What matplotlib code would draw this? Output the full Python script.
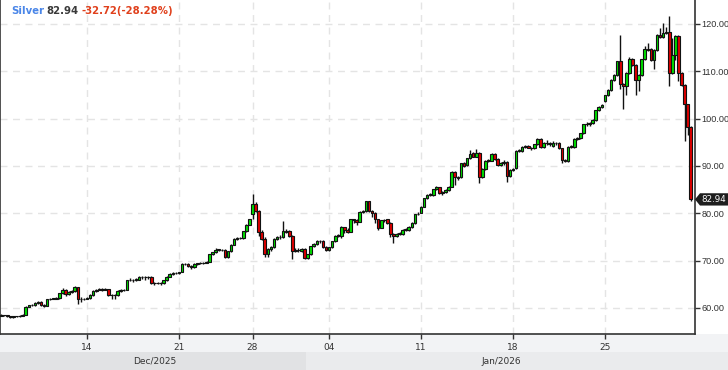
import numpy as np
import matplotlib.pyplot as plt
from matplotlib.patches import Rectangle, Polygon
from matplotlib.transforms import blended_transform_factory

# 4h candles, Silver, Dec 2025 - Jan 2026
opens = [
    58.4, 58.5, 58.5, 58.2, 58.1, 58.2, 58.3, 58.3, 58.6, 60.3,
    60.6, 60.7, 61.0, 61.3, 60.6, 60.5, 61.8, 62.0, 62.0, 62.1,
    63.1, 63.8, 62.9, 63.4, 63.5, 64.4, 62.0, 61.9, 62.0, 62.1,
    62.8, 63.6, 63.9, 64.0, 63.9, 64.0, 62.8, 62.7, 62.8, 63.6,
    63.8, 63.8, 65.9, 65.9, 66.0, 66.0, 66.5, 66.6, 66.5, 66.6,
    65.3, 65.2, 65.3, 65.2, 65.9, 66.6, 67.2, 67.3, 67.4, 67.6,
    69.3, 69.2, 68.8, 68.6, 69.3, 69.4, 69.5, 69.6, 69.8, 71.4,
    71.8, 72.3, 72.3, 72.2, 70.7, 72.0, 73.4, 74.6, 74.8, 74.7,
    76.2, 77.6, 79.8, 82.0, 80.4, 76.0, 74.6, 71.4, 72.5, 72.8,
    74.6, 75.1, 74.9, 76.3, 76.3, 75.3, 72.1, 72.3, 72.1, 72.5,
    70.6, 71.3, 73.0, 73.5, 74.1, 74.2, 72.8, 72.3, 72.8, 74.1,
    75.3, 75.3, 77.1, 76.5, 76.1, 78.7, 78.5, 78.2, 80.3, 80.4,
    82.5, 80.4, 80.1, 78.7, 77.0, 78.5, 78.7, 77.9, 75.6, 75.3,
    75.6, 75.7, 76.5, 76.5, 77.2, 77.9, 79.8, 80.1, 81.4, 83.2,
    83.9, 83.9, 85.1, 85.5, 84.2, 84.6, 85.0, 85.6, 88.8, 87.6,
    87.6, 90.6, 90.2, 91.6, 92.7, 92.0, 92.7, 87.6, 89.3, 91.1,
    91.1, 92.5, 91.4, 90.2, 90.6, 90.9, 87.9, 89.2, 89.6, 93.2,
    93.2, 94.1, 94.3, 93.9, 93.7, 94.6, 95.8, 94.1, 94.9, 94.6,
    94.3, 94.8, 94.8, 93.7, 91.3, 91.1, 94.0, 94.1, 95.8, 96.0,
    96.9, 98.8, 98.8, 99.0, 99.8, 101.9, 102.5, 103.7, 104.9, 106.1,
    108.2, 109.3, 112.1, 107.4, 106.8, 109.6, 112.6, 111.4, 108.2, 109.3,
    112.6, 114.7, 114.7, 112.4, 114.5, 117.7, 117.3, 118.0, 118.3, 109.6,
    113.5, 117.5, 109.6, 107.2, 103.0, 98.3,
]
highs = [
    58.7, 58.6, 58.6, 58.4, 58.3, 58.4, 58.5, 58.7, 60.4, 60.7,
    60.9, 61.2, 61.5, 61.4, 60.9, 61.9, 62.2, 62.2, 62.3, 63.2,
    64.3, 64.0, 63.6, 63.7, 64.6, 64.5, 62.3, 62.2, 62.4, 62.9,
    63.7, 64.1, 64.2, 64.2, 64.2, 64.1, 63.0, 63.0, 63.8, 64.0,
    64.0, 66.0, 66.4, 66.2, 66.4, 66.7, 66.8, 66.8, 66.8, 66.7,
    65.5, 65.5, 65.4, 66.0, 66.7, 67.3, 67.5, 67.5, 67.6, 69.4,
    69.5, 69.4, 69.0, 69.4, 69.6, 69.7, 69.8, 69.9, 71.5, 71.9,
    72.7, 72.5, 72.5, 72.4, 72.1, 73.5, 74.7, 75.0, 75.0, 76.3,
    77.7, 78.8, 84.1, 82.3, 80.6, 76.4, 74.9, 72.7, 73.0, 74.8,
    75.3, 75.4, 78.4, 76.6, 76.5, 75.5, 72.6, 72.6, 72.7, 72.6,
    71.5, 73.1, 73.7, 74.3, 74.4, 74.3, 73.0, 72.9, 74.2, 75.4,
    75.7, 77.3, 77.2, 76.8, 78.9, 78.9, 78.7, 80.5, 80.6, 82.6,
    82.6, 80.6, 80.3, 78.9, 78.6, 78.8, 78.9, 78.1, 75.9, 75.8,
    76.0, 76.6, 76.8, 77.3, 78.1, 79.9, 80.3, 81.5, 83.3, 84.0,
    84.2, 85.2, 85.8, 85.6, 84.8, 85.2, 85.8, 88.9, 89.0, 87.9,
    90.7, 90.8, 91.7, 93.4, 93.0, 93.5, 92.9, 89.5, 91.3, 91.5,
    92.8, 92.7, 91.6, 90.8, 91.2, 91.1, 89.3, 89.6, 93.4, 93.5,
    94.2, 94.4, 94.5, 94.0, 94.7, 95.9, 95.9, 95.1, 95.5, 95.0,
    95.2, 95.0, 95.0, 93.8, 91.5, 94.2, 94.5, 95.9, 96.2, 97.0,
    98.9, 99.2, 99.2, 99.9, 101.9, 102.7, 103.1, 105.0, 106.3, 108.4,
    109.4, 112.2, 117.7, 107.6, 109.8, 113.1, 112.8, 111.6, 109.5, 112.7,
    115.4, 115.9, 114.9, 114.7, 117.8, 119.1, 120.3, 119.4, 121.7, 117.0,
    117.7, 117.7, 109.9, 107.4, 103.2, 98.5,
]
lows = [
    58.2, 58.3, 58.1, 57.9, 57.9, 58.0, 58.1, 58.2, 58.5, 60.1,
    60.4, 60.5, 60.8, 60.5, 60.2, 60.4, 61.6, 61.8, 61.8, 61.9,
    63.0, 62.6, 62.7, 63.2, 63.3, 60.9, 61.2, 61.6, 61.8, 61.9,
    62.6, 63.4, 63.7, 63.6, 63.7, 62.6, 62.0, 62.0, 62.6, 63.4,
    63.6, 63.7, 65.6, 65.4, 65.7, 65.9, 66.2, 66.0, 66.2, 65.1,
    64.9, 65.0, 64.9, 65.1, 65.8, 66.5, 67.0, 67.1, 67.2, 67.5,
    69.0, 68.6, 68.3, 68.5, 69.1, 69.2, 69.3, 69.4, 69.7, 71.2,
    71.6, 72.0, 72.0, 70.5, 70.6, 71.9, 73.2, 74.4, 74.5, 74.6,
    76.1, 77.5, 78.8, 80.2, 75.3, 74.4, 70.7, 70.7, 72.0, 72.6,
    74.3, 74.6, 74.7, 75.8, 75.1, 70.4, 71.8, 71.8, 71.9, 70.3,
    70.3, 71.2, 72.8, 73.3, 73.8, 72.6, 72.0, 72.1, 72.6, 74.0,
    75.0, 74.7, 75.9, 75.8, 76.0, 77.9, 77.6, 78.1, 80.0, 80.2,
    80.2, 79.3, 78.0, 76.5, 76.8, 78.2, 77.7, 75.1, 73.7, 75.1,
    75.4, 75.5, 76.2, 76.3, 77.0, 77.8, 79.6, 80.0, 81.3, 83.0,
    83.6, 83.7, 84.9, 84.0, 83.9, 84.3, 84.8, 85.5, 86.0, 87.1,
    87.4, 89.8, 90.0, 91.4, 91.8, 91.8, 86.5, 87.4, 89.1, 90.8,
    91.0, 91.2, 90.0, 90.0, 90.3, 86.7, 87.7, 88.9, 89.4, 92.9,
    93.0, 93.9, 93.7, 93.4, 93.5, 94.4, 93.9, 93.9, 94.5, 94.3,
    94.1, 94.5, 93.5, 90.6, 90.8, 90.9, 93.8, 93.9, 95.5, 95.8,
    96.7, 98.4, 98.5, 98.8, 99.6, 101.7, 102.3, 103.5, 104.7, 105.9,
    108.0, 109.1, 106.3, 102.1, 105.1, 109.4, 111.1, 105.1, 105.8, 109.1,
    112.4, 114.3, 112.2, 110.5, 114.3, 117.1, 117.1, 117.8, 107.0, 109.4,
    112.4, 107.9, 106.9, 95.3, 96.5, 82.7,
]
closes = [
    58.5, 58.5, 58.2, 58.1, 58.2, 58.3, 58.3, 58.6, 60.3, 60.6,
    60.7, 61.0, 61.3, 60.6, 60.5, 61.8, 62.0, 62.0, 62.1, 63.1,
    63.8, 62.9, 63.4, 63.5, 64.4, 62.0, 61.9, 62.0, 62.1, 62.8,
    63.6, 63.9, 64.0, 63.9, 64.0, 62.8, 62.7, 62.8, 63.6, 63.8,
    63.8, 65.9, 65.9, 66.0, 66.0, 66.5, 66.6, 66.5, 66.6, 65.3,
    65.2, 65.3, 65.2, 65.9, 66.6, 67.2, 67.3, 67.4, 67.6, 69.3,
    69.2, 68.8, 68.6, 69.3, 69.4, 69.5, 69.6, 69.8, 71.4, 71.8,
    72.3, 72.3, 72.2, 70.7, 72.0, 73.4, 74.6, 74.8, 74.7, 76.2,
    77.6, 78.7, 82.0, 80.4, 76.0, 74.6, 71.4, 72.5, 72.8, 74.6,
    75.1, 74.9, 76.2, 76.0, 75.3, 72.1, 72.3, 72.2, 72.5, 70.6,
    71.3, 73.0, 73.5, 74.1, 74.2, 72.8, 72.3, 72.8, 74.1, 75.3,
    75.5, 77.1, 76.5, 76.1, 78.7, 78.5, 78.2, 80.3, 80.4, 82.5,
    80.4, 80.1, 78.7, 77.0, 78.5, 78.6, 77.9, 75.6, 75.3, 75.6,
    75.9, 76.5, 76.6, 77.2, 78.0, 79.8, 79.9, 81.4, 83.2, 83.9,
    83.9, 85.1, 85.5, 84.2, 84.6, 85.0, 85.6, 88.8, 87.6, 87.4,
    90.6, 90.0, 91.6, 92.5, 92.0, 92.7, 87.6, 89.3, 91.1, 91.1,
    92.5, 91.4, 90.2, 90.6, 90.9, 87.9, 89.2, 89.3, 93.2, 93.2,
    94.1, 94.2, 93.9, 93.7, 94.6, 95.8, 94.1, 94.9, 94.8, 94.9,
    94.8, 94.8, 93.7, 91.3, 91.1, 94.1, 94.3, 95.8, 96.0, 96.9,
    98.8, 98.8, 99.0, 99.8, 101.8, 102.5, 102.8, 104.9, 106.1, 108.2,
    109.3, 112.1, 107.4, 106.8, 109.6, 112.6, 111.4, 108.2, 109.3, 112.6,
    114.7, 114.6, 112.4, 114.5, 117.7, 117.3, 118.0, 118.3, 109.6, 113.5,
    117.5, 109.6, 107.2, 103.0, 98.3, 82.94,
]

tick_pos = [28, 58, 82, 107, 137, 167, 197]
tick_labels = ["14", "21", "28", "04", "11", "18", "25"]
month_start = [0, 100]
month_labels = ["Dec/2025", "Jan/2026"]
y_ticks = [60, 70, 80, 90, 100, 110, 120]

name = "Silver"
last_txt = "82.94"
change_txt = "-32.72(-28.28%)"

W, H = 728, 370
fig = plt.figure(figsize=(W / 100, H / 100), dpi=100)

# bottom bands (drawn behind the axes)
fig.patches.append(Rectangle((0, 18 / H), 1, 18 / H, transform=fig.transFigure,
                             facecolor='#f2f3f5', edgecolor='none', zorder=-5))

ax = fig.add_axes([0, 36 / H, 695 / W, 334 / H])

o = np.array(opens); h = np.array(highs); l = np.array(lows); c = np.array(closes)
idx = np.arange(len(c))
up = c >= o
cols = np.where(up, '#00e000', '#e00000')

ax.vlines(idx, l, h, color='#111111', linewidth=1.0, zorder=2)
body = np.maximum(np.abs(c - o), 0.08)
ax.bar(idx, body, bottom=np.minimum(o, c), width=0.85, color=cols,
       edgecolor='#111111', linewidth=0.8, zorder=3)

ax.set_xlim(-0.4, 226.4)
ax.set_ylim(54.5, 125.07)

ax.set_xticks(tick_pos)
ax.set_xticklabels(tick_labels)
ax.set_yticks(y_ticks)
ax.set_yticklabels(["%.2f" % v for v in y_ticks], family='Liberation Sans')
ax.yaxis.tick_right()
ax.tick_params(axis='both', colors='#333333', labelsize=6.5, length=3.5, width=1)
ax.tick_params(axis='x', pad=3)
ax.tick_params(axis='y', labelsize=6.6, pad=1)
ax.grid(True, color='#e4e4e4', linestyle=(0, (5, 4)), linewidth=1)
ax.set_axisbelow(True)

ax.spines['top'].set_visible(False)
for s in ['left', 'bottom', 'right']:
    ax.spines[s].set_color('#333333')
    ax.spines[s].set_linewidth(1.2)

trans = blended_transform_factory(ax.transData, fig.transFigure)
band_cols = ['#e1e2e4', '#eaebed']
bounds = month_start + [260]
for k, lab in enumerate(month_labels):
    x0, x1 = bounds[k], bounds[k + 1]
    if k == 0:
        x0 = -5
    fig.patches.append(Rectangle((x0 - 0.5, 0), x1 - x0, 18 / H, transform=trans,
                                 facecolor=band_cols[k], edgecolor='none', zorder=-5))
    xc = (max(bounds[k], -0.4) + min(bounds[k + 1], 226.4)) / 2
    fig.text(xc, 9 / H, lab, transform=trans, ha='center', va='center',
             fontsize=6.5, color='#333333')

# header
fig.text(11 / W, 1 - 11 / H, name, fontsize=7.3, fontweight='bold', color='#4a86e8', va='center')
fig.text(46 / W, 1 - 11 / H, last_txt, fontsize=7.3, fontweight='bold', color='#3a3a3a', va='center')
fig.text(81 / W, 1 - 11 / H, change_txt, fontsize=7.3, fontweight='bold', color='#e0401c', va='center')

# last price tag
yt = ax.get_yaxis_transform()
hh = 1.3
p = c[-1]
tag = Polygon([(1.0, p), (1 + 5 / 695, p + hh), (1 + 33 / 695, p + hh),
               (1 + 33 / 695, p - hh), (1 + 5 / 695, p - hh)],
              closed=True, transform=yt, facecolor='#1e1e1e', edgecolor='none',
              clip_on=False, zorder=5)
ax.add_patch(tag)
ax.text(1 + 19 / 695, p, last_txt, transform=yt, ha='center', va='center',
        fontsize=6.3, color='white', zorder=6, clip_on=False)

fig.savefig('out.png', dpi=100)
